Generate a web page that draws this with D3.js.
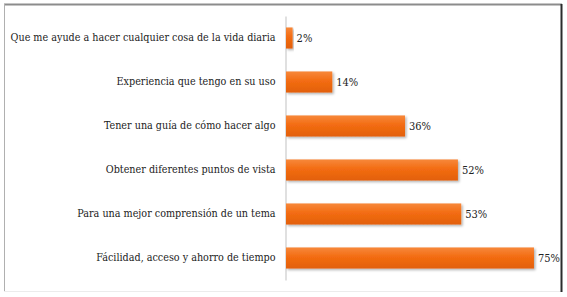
<!DOCTYPE html>
<html>
<head>
<meta charset="utf-8">
<script src="https://cdn.jsdelivr.net/npm/d3@7"></script>
<style>
  body { margin: 0; background: #fff; }
</style>
</head>
<body>
<svg id="chart" width="567" height="297"></svg>
<script>
const categories = [
  "Que me ayude a hacer cualquier cosa de la vida diaria",
  "Experiencia que tengo en su uso",
  "Tener una guía de cómo hacer algo",
  "Obtener diferentes puntos de vista",
  "Para una mejor comprensión de un tema",
  "Fácilidad, acceso y ahorro de tiempo"
];
const values = [2, 14, 36, 52, 53, 75];

const serif = "'DejaVu Serif Condensed', 'DejaVu Serif', serif";
const svg = d3.select("#chart");

// frame
svg.append("line").attr("x1", 4).attr("x2", 562).attr("y1", 4.5).attr("y2", 4.5).attr("stroke", "#8c8c8c").attr("stroke-width", 2);
svg.append("line").attr("x1", 4.5).attr("x2", 4.5).attr("y1", 4).attr("y2", 291).attr("stroke", "#b0b0b0").attr("stroke-width", 1);
svg.append("line").attr("x1", 4).attr("x2", 562).attr("y1", 291.5).attr("y2", 291.5).attr("stroke", "#ececec").attr("stroke-width", 1);
svg.append("line").attr("x1", 561.5).attr("x2", 561.5).attr("y1", 4).attr("y2", 292).attr("stroke", "#2b2b2b").attr("stroke-width", 2);

const defs = svg.append("defs");
const grad = defs.append("linearGradient").attr("id", "barGrad").attr("x1", 0).attr("x2", 0).attr("y1", 0).attr("y2", 1);
grad.append("stop").attr("offset", "0%").attr("stop-color", "#f7883a");
grad.append("stop").attr("offset", "45%").attr("stop-color", "#f36c12");
grad.append("stop").attr("offset", "100%").attr("stop-color", "#e2600c");
const shadow = defs.append("filter").attr("id", "shadow").attr("x", "-10%").attr("y", "-20%").attr("width", "130%").attr("height", "160%");
shadow.append("feDropShadow").attr("dx", 1.5).attr("dy", 1.5).attr("stdDeviation", 1).attr("flood-color", "#000").attr("flood-opacity", 0.3);

const axisX = 286;
const x = d3.scaleLinear().domain([0, 80]).range([axisX, axisX + 264.5]);
const y = d3.scaleBand().domain(categories).range([16, 280]).paddingInner(0.52).paddingOuter(0.26);

svg.append("g")
  .attr("transform", `translate(${axisX - 0.5},0)`)
  .call(d3.axisLeft(y).tickSize(0).tickPadding(10))
  .call(g => g.select(".domain").attr("stroke", "#d6d6d6").attr("stroke-width", 1.5))
  .call(g => g.selectAll("text").style("font-size", "10.7px").style("fill", "#222").style("font-family", serif));

svg.selectAll("rect.bar")
  .data(values)
  .join("rect")
  .attr("class", "bar")
  .attr("x", x(0))
  .attr("y", (d, i) => y(categories[i]))
  .attr("width", d => x(d) - x(0))
  .attr("height", y.bandwidth())
  .attr("fill", "url(#barGrad)")
  .attr("filter", "url(#shadow)");

svg.selectAll("text.val")
  .data(values)
  .join("text")
  .attr("class", "val")
  .attr("x", d => x(d) + 4)
  .attr("y", (d, i) => y(categories[i]) + y.bandwidth() / 2)
  .attr("dy", "0.35em")
  .style("font-size", "11px")
  .style("font-family", serif)
  .style("fill", "#222")
  .text(d => d + "%");
</script>
</body>
</html>
